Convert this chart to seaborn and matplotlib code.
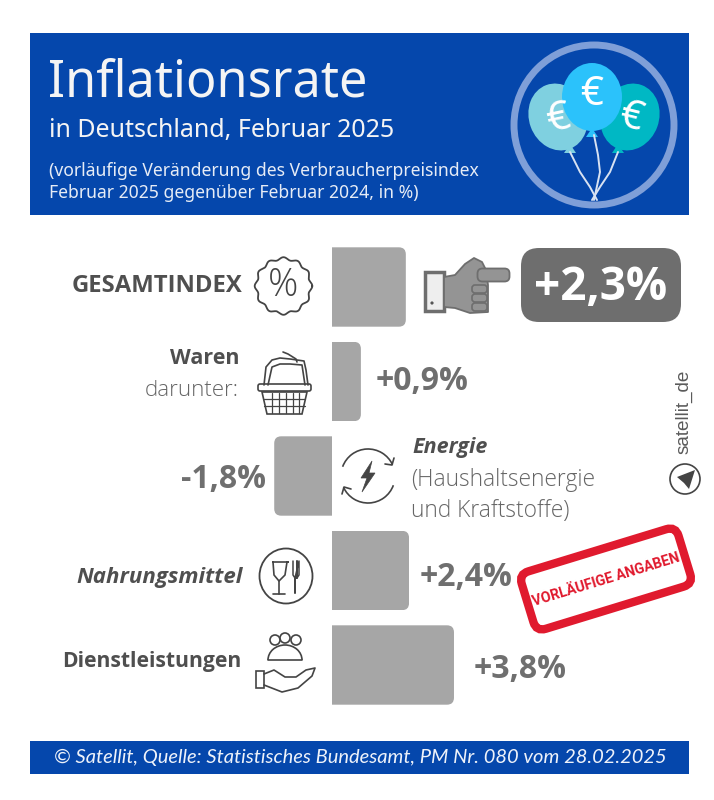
import numpy as np
import pandas as pd
import matplotlib
matplotlib.use("Agg")
import matplotlib.pyplot as plt
import seaborn as sns
from matplotlib.patches import FancyBboxPatch, Rectangle, Ellipse, Circle, Polygon, Arc
from matplotlib.transforms import Affine2D

categories = ["GESAMTINDEX", "Waren", "Energie", "Nahrungsmittel", "Dienstleistungen"]
values = [2.3, 0.9, -1.8, 2.4, 3.8]
title = "Inflationsrate"
subtitle = "in Deutschland, Februar 2025"
note = ["(vorläufige Veränderung des Verbraucherpreisindex", "Februar 2025 gegenüber Februar 2024, in %)"]
source = "© Satellit, Quelle: Statistisches Bundesamt, PM Nr. 080 vom 28.02.2025"

W, H = 714, 800
ZERO_X, PX_PER_UNIT = 332, 32.1
FIRST_Y, ROW_STEP = 287, 94.5
BLUE = "#0547ac"; BAR = "#a6a6a6"; DARK = "#4f4f4f"; VAL = "#6f6f6f"; ICON = "#444444"; RED = "#e01a2e"
SANS = "Open Sans"; HEAD = "Noto Sans"

sns.set_theme(style="white")
plt.rcParams["font.family"] = [SANS, "DejaVu Sans"]
fig = plt.figure(figsize=(W/100, H/100), dpi=100, facecolor="white")

ax = fig.add_axes([0, 0, 1, 1])
df = pd.DataFrame({"cat": categories, "val": values})
sns.barplot(data=df, y="cat", x="val", orient="h", color=BAR, saturation=1, width=0.84, ax=ax)
ax.set_xlim(-ZERO_X/PX_PER_UNIT, (W-ZERO_X)/PX_PER_UNIT)
ax.set_ylim((H-FIRST_Y)/ROW_STEP, -FIRST_Y/ROW_STEP)
ax.axis("off")

ov = fig.add_axes([0, 0, 1, 1], facecolor="none", zorder=5)
ov.set_xlim(0, W); ov.set_ylim(H, 0); ov.axis("off")

# rounded outer corners of bars
for bar in ax.patches:
    a = ZERO_X + bar.get_x()*PX_PER_UNIT
    b = a + bar.get_width()*PX_PER_UNIT
    x0, x1 = min(a, b), max(a, b)
    y0 = FIRST_Y + bar.get_y()*ROW_STEP
    h = bar.get_height()*ROW_STEP
    if x1 > ZERO_X + 1:
        cx0, cx1 = x0-30, x1
    else:
        cx0, cx1 = x0, x1+30
    r = 7
    clip = FancyBboxPatch((cx0+r, y0+r), cx1-cx0-2*r, h-2*r, boxstyle=f"round,pad={r},rounding_size={r}",
                          transform=ov.transData)
    bar.set_clip_path(clip)
    bar.set_linewidth(0)

def fmt(v):
    return f"{v:+.1f}%".replace(".", ",")

# header
ov.add_patch(Rectangle((30, 33), 659, 182, fc=BLUE, ec="none"))
ov.text(48, 83, title, color="#f4f4f4", fontsize=36.3, family=HEAD, va="center", ha="left")
ov.text(49, 130, subtitle, color="#f4f4f4", fontsize=18, family=HEAD, va="center", ha="left")
ov.text(49, 171, note[0], color="#e6ecf6", fontsize=12.65, family=HEAD, va="center", ha="left")
ov.text(49, 193, note[1], color="#e6ecf6", fontsize=12.65, family=HEAD, va="center", ha="left")

# balloons
ov.add_patch(Circle((594, 125), 80, fc="none", ec="#7f9fd8", lw=5))
for pts in ([(570,152),(580,172),(590,187),(597,200)], [(618,152),(610,172),(600,187),(592,200)],
            [(594,135),(598,155),(600,172),(594,200)]):
    p = np.array(pts)
    ov.plot(p[:,0], p[:,1], color="#d8e2f2", lw=1.4)
balloons = [(558,117,29,34,"#7fd0e0",-20,558,120,12,570,146),
            (630,117,29,34,"#00b8c4",20,631,118,-14,618,146),
            (592,97,30,34,"#2bc2fb",0,592,95,0,592,130)]
for (cx, cy, rx, ry, col, ang, ex, ey, er, kx, ky) in balloons:
    ov.add_patch(Ellipse((cx, cy), 2*rx, 2*ry, angle=ang, fc=col, ec="none"))
    ov.add_patch(Polygon([(kx,ky-2),(kx-6,ky+7),(kx+6,ky+7)], fc=col, ec="none"))
    ov.text(ex, ey, "€", color="white", fontsize=29, rotation=er, ha="center", va="center", family="Noto Sans", fontweight="light")

# row labels
ov.text(242, 286, "GESAMTINDEX", color=DARK, fontsize=17.2, fontweight="bold", ha="right", va="center")
ov.text(239, 359, "Waren", color=DARK, fontsize=15.5, fontweight="bold", ha="right", va="center")
ov.text(239, 390, "darunter:", color="#666666", fontsize=16, fontweight="light", ha="right", va="center")
ov.text(412, 448, "Energie", color=DARK, fontsize=15.5, fontweight="bold", style="italic", ha="left", va="center")
ov.text(411, 480, "(Haushaltsenergie", color="#666666", fontsize=16.4, fontweight="light", ha="left", va="center")
ov.text(411, 511, "und Kraftstoffe)", color="#666666", fontsize=16.4, fontweight="light", ha="left", va="center")
ov.text(243, 577, "Nahrungsmittel", color=DARK, fontsize=16, fontweight="bold", style="italic", ha="right", va="center")
ov.text(241, 661, "Dienstleistungen", color=DARK, fontsize=15.2, fontweight="bold", ha="right", va="center")

# value labels
ov.add_patch(FancyBboxPatch((535, 262), 132, 46, boxstyle="round,pad=14,rounding_size=18", fc="#6e6e6e", ec="none"))
ov.text(601, 288, fmt(values[0]), color="white", fontsize=33, fontweight="bold", ha="center", va="center")
ov.text(422, 381, fmt(values[1]), color=VAL, fontsize=23, fontweight="bold", ha="center", va="center")
ov.text(224, 480, fmt(values[2]), color=VAL, fontsize=23, fontweight="bold", ha="center", va="center")
ov.text(466, 577, fmt(values[3]), color=VAL, fontsize=23, fontweight="bold", ha="center", va="center")
ov.text(520, 670, fmt(values[4]), color=VAL, fontsize=23, fontweight="bold", ha="center", va="center")

# hand pointing
ov.add_patch(Rectangle((425, 272), 19, 39, fc="#eeeeee", ec="#6e6e6e", lw=2.5))
ov.add_patch(Circle((432, 303), 1.6, fc="#555555", ec="none"))
ov.add_patch(Polygon([(444,277),(455,275),(465,264),(474,258),(482,262),(486,270),(488,285),(488,312),(470,313),(455,308),(444,307)],
                     closed=True, fc="#949494", ec="#6e6e6e", lw=1.3, joinstyle="round"))
ov.add_patch(FancyBboxPatch((480, 271), 27, 8, boxstyle="round,pad=2.5,rounding_size=5", fc="#949494", ec="#6e6e6e", lw=1.3))
for yy in (289, 298, 307):
    ov.add_patch(FancyBboxPatch((473, yy-3), 13, 6, boxstyle="round,pad=1,rounding_size=3", fc="#949494", ec="#6e6e6e", lw=1.2))

# percent badge
t = np.linspace(0, 2*np.pi, 400)
r = 27.5 + 1.3*np.cos(12*t)
ov.plot(283.5 + r*np.cos(t), 286 + r*np.sin(t), color=ICON, lw=1.3)
ov.text(283.5, 286, "%", color=ICON, fontsize=27, ha="center", va="center", family="Open Sans", fontweight="light")

# basket
ov.add_patch(FancyBboxPatch((259, 385), 51, 5, boxstyle="round,pad=1,rounding_size=2", fc="none", ec=ICON, lw=1.2))
ov.add_patch(Polygon([(262,392),(307,392),(302,414),(267,414)], fc="none", ec=ICON, lw=1.2))
ov.plot([264,266,272,280,290,304,306,308], [385,367,360,358,359,361,370,385], color=ICON, lw=1.2)
ov.plot([268,272,280,290,302,305], [385,367,364,364,365,385], color=ICON, lw=1.2)
ov.plot([283,288,296,297], [352,354,359,362], color=ICON, lw=1.2)
for xx in (272, 279, 286, 293, 299):
    ov.plot([xx, xx], [393, 413], color=ICON, lw=0.9)
for yy in (399, 406):
    ov.plot([264, 305], [yy, yy], color=ICON, lw=0.9)

# energy
ov.add_patch(Arc((368, 476), 54, 54, theta1=200, theta2=335, color=ICON, lw=1.2))
ov.add_patch(Arc((368, 476), 54, 54, theta1=20, theta2=155, color=ICON, lw=1.2))
ov.add_patch(Polygon([(372,461),(361,478),(367,478),(362,492),(375,473),(369,473)], fc=ICON, ec=ICON, lw=0.5))
ov.plot([385,392,394], [464,465,458], color=ICON, lw=1.2)
ov.plot([342,344,351], [494,487,489], color=ICON, lw=1.2)

# food
ov.add_patch(Ellipse((286, 576), 53, 55, fc="none", ec=ICON, lw=1.3))
ov.plot([273,274,279,285,287,288,273], [562,575,581,575,562,562,562], color=ICON, lw=1.2)
ov.plot([279,279], [581,594], color=ICON, lw=1.2)
ov.plot([273,285], [594,594], color=ICON, lw=1.2)
ov.plot([293,293,295,295,295,297,297,297,299,299,295], [561,575,578,593,578,578,561,578,575,561,578], color=ICON, lw=1.1)

# service hand
for cx, cy in ((285,638),(275,640),(296,640)):
    ov.add_patch(Circle((cx, cy), 5, fc="none", ec=ICON, lw=1.2))
ov.add_patch(Arc((285, 660), 34, 30, theta1=180, theta2=360, color=ICON, lw=1.2))
ov.plot([268,302], [660,660], color=ICON, lw=1.2)
ov.add_patch(Rectangle((256, 671), 8, 17, fc="none", ec=ICON, lw=1.2))
ov.plot([264,274,285,296,306,315,312,298,282,264], [674,670,677,677,670,668,676,688,692,685], color=ICON, lw=1.2)

# handle
ov.text(684, 412, "satellit_de", color="#5a5a5a", fontsize=13.6, rotation=90, ha="center", va="center", family="Liberation Sans")
ov.add_patch(Circle((685, 479), 15, fc="none", ec=ICON, lw=1.2))
ov.add_patch(Polygon([(677,477),(695,470),(689,489),(684,483)], fc=ICON, ec="none"))

# stamp
cx, cy, ang = 606, 579, -17
rot = Affine2D().rotate_deg_around(cx, cy, ang) + ov.transData
ov.add_patch(FancyBboxPatch((cx-76, cy-24), 152, 48, boxstyle="round,pad=6,rounding_size=10", fc="none", ec=RED, lw=6, transform=rot))
ov.text(cx, cy+1, "VORLÄUFIGE ANGABEN", color=RED, fontsize=10.2, fontweight="bold", rotation=17, rotation_mode="anchor",
        ha="center", va="center", family="Roboto")

# footer
ov.add_patch(Rectangle((30, 741), 659, 33, fc=BLUE, ec="none"))
ov.text(360, 757, source, color="#eef2fa", fontsize=14.5, style="italic", ha="center", va="center", family="Lato")

fig.savefig("out.png", dpi=100, facecolor="white")
